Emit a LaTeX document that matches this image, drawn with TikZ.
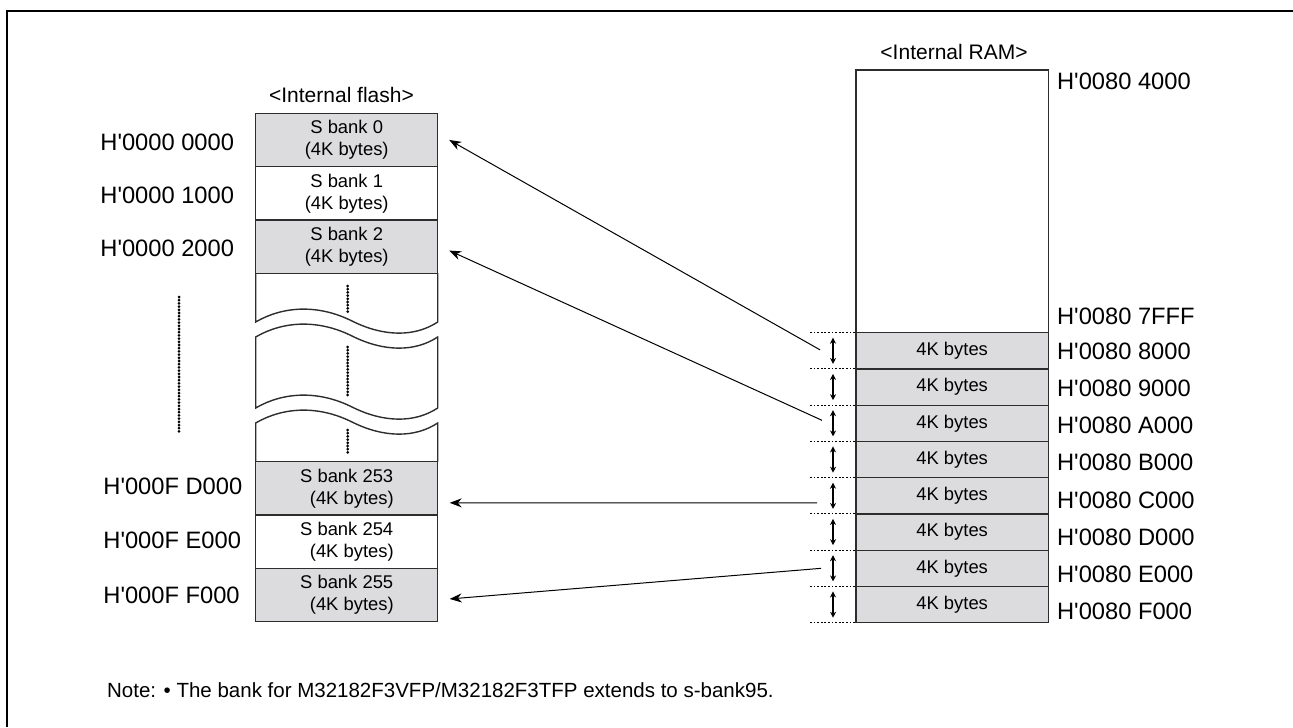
\documentclass[tikz,border=0pt]{standalone}
\usepackage{fontspec}
\setmainfont{Liberation Sans}[Ligatures=TeXOff]
\usetikzlibrary{arrows.meta,calc}
\definecolor{bankfill}{RGB}{220,220,222}
\definecolor{boxline}{RGB}{45,45,45}
\newcommand{\addrtext}{\fontsize{11.85pt}{14pt}\selectfont}
\newcommand{\banktext}{\fontsize{9.2pt}{11pt}\selectfont}
\newcommand{\headtext}{\fontsize{10.5pt}{12pt}\selectfont}
\newcommand{\notetext}{\fontsize{10.25pt}{12pt}\selectfont}
\begin{document}
\begin{tikzpicture}[x=0.5pt,y=-0.5pt,
  boxedge/.style={draw=boxline, line width=0.7pt},
  fbank/.style={boxedge, minimum width=91pt, minimum height=26.65pt, inner sep=0pt, outer sep=0pt, align=center, font=\banktext},
  rbank/.style={boxedge, fill=bankfill, minimum width=96.15pt, minimum height=18.125pt, inner sep=0pt, outer sep=0pt, font=\banktext},
  addr/.style={font=\addrtext, inner sep=0pt},
  head/.style={font=\headtext, inner sep=0pt},
  dotline/.style={line width=1.5pt, line cap=round, dash pattern=on 0pt off 1.6pt},
  tickline/.style={line width=0.5pt, dash pattern=on 0.9pt off 0.9pt},
  dbl/.style={line width=0.6pt, {Stealth[length=3pt,width=3pt]}-{Stealth[length=3pt,width=3pt]}},
  maparrow/.style={line width=0.5pt, -{Stealth[length=6pt,width=4.5pt]}}]
\useasboundingbox (0,0) rectangle (1293,727);
% frame
\draw[line width=1.1pt] (7,727) -- (7,11) -- (1293,11);

% ---------- internal flash ----------
\node[head] (fhead) at (341.5,95) {<Internal flash>};
\node[fbank, fill=bankfill] (fb0) at (346.7,139.95) {S bank 0\\(4K bytes)};
\node[fbank, fill=white] (fb1) at (346.7,193.25) {S bank 1\\(4K bytes)};
\node[fbank, fill=bankfill] (fb2) at (346.7,246.55) {S bank 2\\(4K bytes)};
\node[fbank, fill=bankfill] (fb253) at (346.7,488.35) {S bank 253\\\ \ (4K bytes)};
\node[fbank, fill=white] (fb254) at (346.7,541.65) {S bank 254\\\ \ (4K bytes)};
\node[fbank, fill=bankfill] (fb255) at (346.7,594.95) {S bank 255\\\ \ (4K bytes)};

% broken middle part
\draw[boxedge] (255.7,273.2) -- (255.7,322)
  .. controls (285,305) and (320,305) .. (352,321)
  .. controls (384,337) and (415,337) .. (437.7,322) -- (437.7,273.2);
\draw[boxedge] (255.7,337)
  .. controls (285,320) and (320,320) .. (352,336)
  .. controls (384,352) and (415,352) .. (437.7,337) -- (437.7,408)
  .. controls (415,423) and (384,423) .. (352,407)
  .. controls (320,391) and (285,391) .. (255.7,408) -- cycle;
\draw[boxedge] (255.7,461.7) -- (255.7,423)
  .. controls (285,406) and (320,406) .. (352,422)
  .. controls (384,438) and (415,438) .. (437.7,423) -- (437.7,461.7);
\draw[dotline] (347.7,286) -- (347.7,312);
\draw[dotline] (347.7,347) -- (347.7,398);
\draw[dotline] (347.7,430) -- (347.7,455);
\draw[dotline] (179,297) -- (179,434);

% flash addresses
\node[addr, anchor=west] (fa0) at (100,142) {H'0000 0000};
\node[addr, anchor=west] (fa1) at (100,195) {H'0000 1000};
\node[addr, anchor=west] (fa2) at (100,248) {H'0000 2000};
\node[addr, anchor=west] (fa3) at (103,486) {H'000F D000};
\node[addr, anchor=west] (fa4) at (103,540) {H'000F E000};
\node[addr, anchor=west] (fa5) at (103,595) {H'000F F000};

% ---------- internal RAM ----------
\node[head] (rhead) at (954,51.7) {<Internal RAM>};
\node[boxedge, minimum width=96.15pt, minimum height=131.35pt, inner sep=0pt, outer sep=0pt] (rtop) at (952.15,201.35) {};
\node[addr, anchor=north west] (ratop) at (1056.7,73) {H'0080 4000};
\node[addr, anchor=west] (raend) at (1056.7,316) {H'0080 7FFF};
\foreach \i/\t in {0/8000,1/9000,2/A000,3/B000,4/C000,5/D000,6/E000,7/F000}{
  \node[rbank] (rb\i) at (952.15,{350.825+36.25*\i}) {4K bytes};
  \node[addr, anchor=west] (ra\i) at (1056.7,{351.5+37.1*\i}) {H'0080 \t};
  \draw[tickline] ($(rb\i.north west)+(-46,0)$) -- (rb\i.north west);
  \draw[dbl] ($(rb\i.north west)+(-23,5)$) -- ($(rb\i.south west)+(-23,-5)$);
}
\draw[tickline] ($(rb7.south west)+(-46,0)$) -- (rb7.south west);

% ---------- mapping arrows ----------
\coordinate (s0) at ($(rb0.west)+(-36,-1)$);
\coordinate (s1) at ($(rb2.west)+(-34,-3)$);
\coordinate (s2) at ($(rb4.west)+(-39,7)$);
\coordinate (s3) at ($(rb6.west)+(-35,0)$);
\coordinate (t0) at ($(fb0.east)+(11.5,0)$);
\coordinate (t1) at ($(fb2.east)+(11.5,4)$);
\coordinate (t2) at ($(fb253.east)+(12,14.5)$);
\coordinate (t3) at ($(fb255.east)+(12,4)$);
\draw[maparrow] (s0) -- (t0);
\draw[maparrow] (s1) -- (t1);
\draw[maparrow] (s2) -- (t2);
\draw[maparrow] (s3) -- (t3);

% note
\node[anchor=west, font=\notetext, inner sep=0pt] (note) at (106.7,690) {Note: \textbullet\ The bank for M32182F3VFP/M32182F3TFP extends to s-bank95.};
\end{tikzpicture}
\end{document}
